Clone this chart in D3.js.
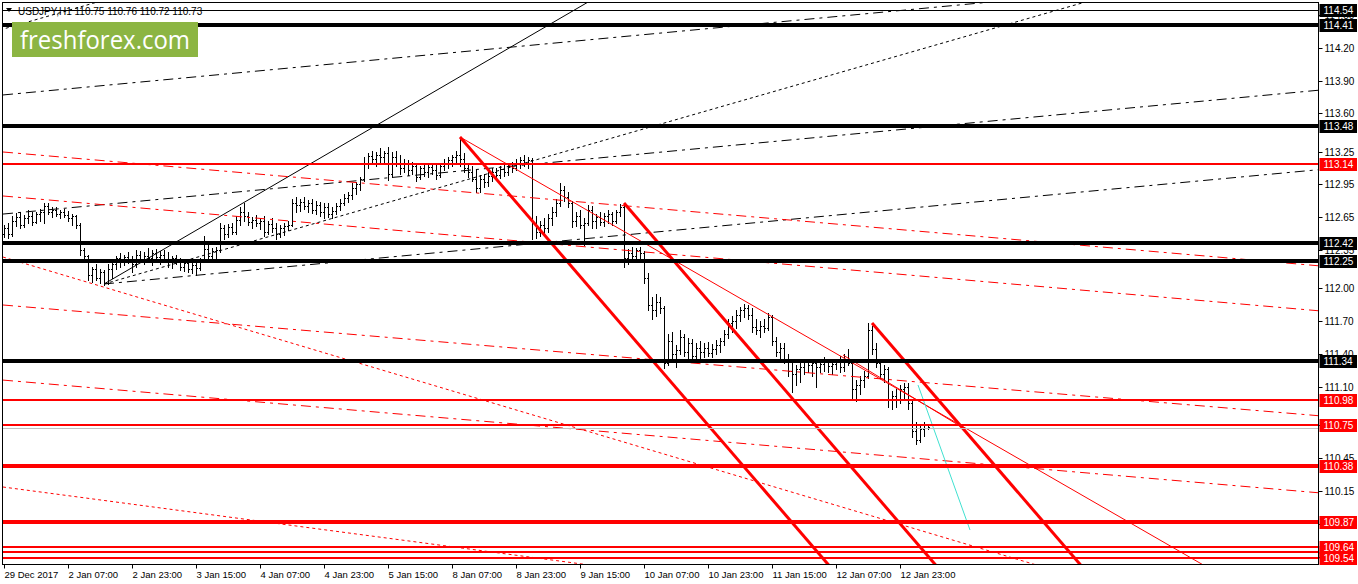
<!DOCTYPE html>
<html><head><meta charset="utf-8">
<script src="https://cdn.jsdelivr.net/npm/d3@7"></script>
<style>body{margin:0;background:#fff;overflow:hidden}svg{display:block}</style>
</head><body>
<svg id="c" width="1358" height="584"></svg>
<script>
// ---------- DATA ----------
const symbol = "USDJPY,H1";
const lastQuote = [110.75, 110.76, 110.72, 110.73];
const opens = [
112.50,112.55,112.50,112.62,112.65,112.58,112.64,112.66,112.61,112.68,
112.70,112.75,112.70,112.72,112.68,112.70,112.67,112.64,112.66,112.58,
112.35,112.30,112.12,112.18,112.10,112.15,112.05,112.18,112.22,112.28,
112.24,112.29,112.26,112.22,112.31,112.27,112.30,112.28,112.32,112.29,
112.31,112.27,112.24,112.28,112.25,112.20,112.23,112.18,112.21,112.19,
112.25,112.36,112.30,112.34,112.35,112.55,112.50,112.56,112.52,112.63,
112.70,112.66,112.61,112.63,112.60,112.62,112.52,112.59,112.55,112.50,
112.55,112.57,112.58,112.78,112.76,112.79,112.75,112.78,112.72,112.76,
112.70,112.74,112.68,112.71,112.75,112.78,112.83,112.85,112.92,112.95,
113.00,113.15,113.21,113.18,113.22,113.20,113.24,113.05,113.20,113.15,
113.10,113.14,113.08,113.12,113.02,113.10,113.06,113.11,113.08,113.04,
113.12,113.15,113.17,113.20,113.22,113.18,113.10,113.06,113.00,112.92,
113.00,112.97,113.03,113.06,113.04,113.09,113.06,113.12,113.10,113.15,
113.17,113.14,113.17,112.60,112.52,112.58,112.55,112.64,112.70,112.78,
112.90,112.84,112.78,112.62,112.66,112.58,112.60,112.72,112.62,112.65,
112.61,112.66,112.68,112.62,112.70,112.74,112.28,112.32,112.30,112.35,
112.32,112.10,111.85,111.80,111.88,111.82,111.32,111.52,111.40,111.44,
111.56,111.42,111.50,111.38,111.46,111.42,111.46,111.41,111.45,111.48,
111.52,111.58,111.68,111.70,111.76,111.80,111.82,111.76,111.65,111.62,
111.66,111.64,111.74,111.52,111.42,111.46,111.36,111.25,111.22,111.26,
111.28,111.33,111.30,111.32,111.28,111.31,111.33,111.29,111.31,111.33,
111.28,111.36,111.32,111.08,111.12,111.16,111.20,111.62,111.45,111.32,
111.22,111.26,110.98,111.02,110.98,111.08,111.10,110.95,110.70,110.62,
110.72,110.75];
const highs = [
112.58,112.60,112.66,112.69,112.70,112.67,112.72,112.70,112.70,112.73,
112.78,112.78,112.74,112.74,112.72,112.73,112.71,112.68,112.67,112.60,
112.37,112.31,112.20,112.22,112.18,112.17,112.22,112.25,112.30,112.32,
112.31,112.33,112.30,112.35,112.34,112.33,112.37,112.35,112.36,112.34,
112.35,112.33,112.30,112.31,112.28,112.26,112.25,112.24,112.25,112.28,
112.48,112.40,112.37,112.38,112.60,112.58,112.59,112.60,112.66,112.74,
112.78,112.70,112.65,112.67,112.64,112.66,112.62,112.64,112.60,112.58,
112.60,112.62,112.82,112.84,112.82,112.84,112.81,112.82,112.80,112.79,
112.78,112.78,112.74,112.78,112.82,112.86,112.88,112.96,112.97,113.02,
113.20,113.24,113.26,113.25,113.28,113.26,113.29,113.25,113.26,113.22,
113.18,113.17,113.16,113.14,113.12,113.14,113.14,113.15,113.13,113.14,
113.18,113.20,113.22,113.26,113.37,113.24,113.15,113.12,113.08,113.04,
113.05,113.06,113.10,113.10,113.12,113.14,113.15,113.16,113.18,113.20,
113.22,113.20,113.19,112.66,112.62,112.64,112.68,112.74,112.82,112.96,
112.94,112.88,112.80,112.70,112.72,112.64,112.76,112.75,112.68,112.70,
112.69,112.72,112.70,112.72,112.77,112.76,112.36,112.38,112.37,112.38,
112.34,112.14,111.92,111.95,111.92,111.84,111.58,111.60,111.48,111.62,
111.58,111.55,111.54,111.50,111.52,111.50,111.51,111.49,111.53,111.55,
111.62,111.72,111.75,111.80,111.83,111.86,111.85,111.82,111.72,111.70,
111.72,111.78,111.76,111.56,111.50,111.50,111.40,111.34,111.30,111.32,
111.36,111.36,111.35,111.36,111.35,111.37,111.36,111.34,111.36,111.38,
111.40,111.45,111.33,111.16,111.20,111.25,111.68,111.66,111.50,111.35,
111.30,111.28,111.06,111.08,111.12,111.14,111.14,110.97,110.78,110.76,
110.78,110.76];
const lows = [
112.47,112.46,112.48,112.57,112.55,112.56,112.60,112.58,112.60,112.62,
112.60,112.68,112.65,112.66,112.64,112.65,112.62,112.58,112.55,112.31,
112.27,112.08,112.06,112.08,112.05,112.03,112.04,112.10,112.18,112.20,
112.21,112.23,112.15,112.20,112.24,112.22,112.25,112.21,112.26,112.22,
112.25,112.20,112.19,112.22,112.17,112.16,112.15,112.14,112.12,112.17,
112.24,112.26,112.27,112.25,112.33,112.45,112.47,112.50,112.50,112.58,
112.62,112.58,112.55,112.57,112.54,112.48,112.50,112.52,112.45,112.47,
112.49,112.53,112.57,112.70,112.71,112.73,112.70,112.69,112.68,112.66,
112.64,112.65,112.64,112.68,112.72,112.76,112.79,112.82,112.86,112.90,
112.98,113.10,113.14,113.12,113.16,113.14,112.99,113.02,113.12,113.05,
113.06,113.04,113.05,112.98,113.00,113.03,113.02,113.05,113.00,113.02,
113.08,113.10,113.12,113.14,113.12,113.06,113.02,112.98,112.88,112.88,
112.93,112.94,112.98,113.00,113.01,113.03,113.04,113.06,113.08,113.10,
113.12,113.10,112.45,112.46,112.48,112.50,112.52,112.58,112.66,112.75,
112.80,112.74,112.56,112.57,112.55,112.40,112.58,112.55,112.55,112.58,
112.57,112.60,112.58,112.60,112.66,112.20,112.22,112.25,112.26,112.28,
112.05,111.80,111.72,111.75,111.78,111.27,111.30,111.35,111.28,111.40,
111.38,111.36,111.34,111.34,111.36,111.37,111.38,111.37,111.40,111.42,
111.48,111.55,111.60,111.64,111.70,111.74,111.72,111.60,111.58,111.56,
111.60,111.62,111.48,111.38,111.35,111.32,111.20,111.05,111.12,111.15,
111.22,111.24,111.20,111.10,111.24,111.25,111.24,111.22,111.26,111.24,
111.25,111.30,111.00,110.97,111.04,111.10,111.18,111.40,111.28,111.18,
111.15,110.92,110.90,110.92,110.95,110.98,110.90,110.64,110.58,110.60,
110.65,110.72];
const closes = [
112.55,112.50,112.62,112.65,112.58,112.64,112.66,112.61,112.68,112.70,
112.75,112.70,112.72,112.68,112.70,112.67,112.64,112.66,112.58,112.35,
112.30,112.12,112.18,112.10,112.15,112.05,112.18,112.22,112.28,112.24,
112.29,112.26,112.22,112.31,112.27,112.30,112.28,112.32,112.29,112.31,
112.27,112.24,112.28,112.25,112.20,112.23,112.18,112.21,112.19,112.25,
112.36,112.30,112.34,112.35,112.55,112.50,112.56,112.52,112.63,112.70,
112.66,112.61,112.63,112.60,112.62,112.52,112.59,112.55,112.50,112.55,
112.57,112.58,112.78,112.76,112.79,112.75,112.78,112.72,112.76,112.70,
112.74,112.68,112.71,112.75,112.78,112.83,112.85,112.92,112.95,113.00,
113.15,113.21,113.18,113.22,113.20,113.24,113.05,113.20,113.15,113.10,
113.14,113.08,113.12,113.02,113.10,113.06,113.11,113.08,113.04,113.12,
113.15,113.17,113.20,113.22,113.18,113.10,113.06,113.00,112.92,113.00,
112.97,113.03,113.06,113.04,113.09,113.06,113.12,113.10,113.15,113.17,
113.14,113.17,112.60,112.52,112.58,112.55,112.64,112.70,112.78,112.90,
112.84,112.78,112.62,112.66,112.58,112.60,112.72,112.62,112.65,112.61,
112.66,112.68,112.62,112.70,112.74,112.28,112.32,112.30,112.35,112.32,
112.10,111.85,111.80,111.88,111.82,111.32,111.52,111.40,111.44,111.56,
111.42,111.50,111.38,111.46,111.42,111.46,111.41,111.45,111.48,111.52,
111.58,111.68,111.70,111.76,111.80,111.82,111.76,111.65,111.62,111.66,
111.64,111.74,111.52,111.42,111.46,111.36,111.25,111.22,111.26,111.28,
111.33,111.30,111.32,111.28,111.31,111.33,111.29,111.31,111.33,111.28,
111.36,111.32,111.08,111.12,111.16,111.20,111.62,111.45,111.32,111.22,
111.26,110.98,111.02,110.98,111.08,111.10,110.95,110.70,110.62,110.72,
110.75,110.73];

const timeLabels = ["29 Dec 2017","2 Jan 07:00","2 Jan 23:00","3 Jan 15:00","4 Jan 07:00","4 Jan 23:00","5 Jan 15:00","8 Jan 07:00","8 Jan 23:00","9 Jan 15:00","10 Jan 07:00","10 Jan 23:00","11 Jan 15:00","12 Jan 07:00","12 Jan 23:00"];
const timeLabelBars = [0,16,32,48,64,80,96,112,128,144,160,176,192,208,224];
const priceTicks = [114.50,114.20,113.90,113.60,113.25,112.95,112.65,112.35,112.00,111.70,111.40,111.10,110.75,110.45,110.15,109.85,109.55];

// horizontal levels (price) and their kind; label drawing order follows this list
const levelPrices = [114.54,114.41,113.48,112.42,112.25,111.34,113.14,110.98,110.75,110.38,109.87,109.59,109.54,109.64];
const levelKinds  = ["bThin","bThick","bThick","bThick","bThick","bThick","rMid","rMid","rMid","rThick","rThick","rMid","rMid","rMid"];
const askPrice = 110.722;

// trend lines: [bar1, price1, bar2, price2]
const trendLines = [
  [25,112.041, 144.75,114.590],   // black solid up
  [25,112.041, 267.75,114.590],   // black dotted up
  [-1,114.362, 24.75,114.632],    // black dotted parallel (top-left)
  [25,112.041, 326.5,113.078],    // black dash-dot lower
  [-0.25,112.680, 326.5,113.804], // black dash-dot middle
  [-0.25,113.768, 326.5,114.892], // black dash-dot upper
  [-0.25,113.247, 326.5,112.214], // red dash-dot 1
  [-0.25,112.845, 326.5,111.803], // red dash-dot 2
  [-0.25,111.849, 326.5,110.844], // red dash-dot 3
  [-0.25,111.163, 326.5,110.140], // red dash-dot 4
  [-0.25,112.287, 256.5,109.491], // red dotted steep
  [-0.25,110.186, 142.75,109.491],// red dotted lower
  [114,113.384, 205.75,109.491],  // red channel A
  [155,112.781, 232.5,109.491],   // red channel B
  [217,111.684, 268.75,109.491],  // red channel C
  [114,113.384, 299,109.491],     // red thin
  [209.75,111.392, 239,110.743],  // red thin 2
  [228.5,111.118, 241.5,109.793]  // cyan
];
const trendKinds = ["bSolid","bDot","bDot","bDashDot","bDashDot","bDashDot","rDashDot","rDashDot","rDashDot","rDashDot","rDot","rDot","rThick","rThick","rThick","rThin","rThin","cyan"];
const trendRay = [true,true,true,true,true,true,true,true,true,true,true,true,true,true,true,true,false,false];

// ---------- STYLES ----------
const lineStyle = {
  bSolid:{c:"#000",w:1,d:null}, bDot:{c:"#000",w:1,d:"3,3"}, bDashDot:{c:"#000",w:1,d:"10,5,3,5"},
  rDashDot:{c:"#ff0000",w:1,d:"10,5,3,5"}, rDot:{c:"#ff0000",w:1,d:"3,3"},
  rThick:{c:"#ff0000",w:3,d:null}, rThin:{c:"#ff0000",w:1,d:null}, cyan:{c:"#40e0d0",w:1,d:null}
};
const levelStyle = {
  bThin:{c:"#000",w:1}, bThick:{c:"#000",w:4}, rMid:{c:"#ff0000",w:2}, rThick:{c:"#ff0000",w:4}
};

// ---------- LAYOUT ----------
const L=2.5, R=1318.5, T=2.5, B=564.5;
const svg=d3.select("#c");
const n=closes.length;
const x=d3.scaleLinear().domain([0,n-1]).range([4,4+4*(n-1)]);
const y=d3.scaleLinear().domain([114.41,109.87]).range([24.7,521.6]);
const font="'Liberation Sans',Arial,sans-serif";

svg.append("defs").append("clipPath").attr("id","pc")
  .append("rect").attr("x",L).attr("y",T).attr("width",R-L).attr("height",B-T);
const plot=svg.append("g").attr("clip-path","url(#pc)");

// bars
const bars=plot.append("g").attr("fill","#000").attr("shape-rendering","crispEdges");
d3.range(n).forEach(i=>{
  const xi=Math.round(x(i));
  const yh=Math.round(y(highs[i])), yl=Math.round(y(lows[i]));
  bars.append("rect").attr("x",xi).attr("y",yh).attr("width",1).attr("height",Math.max(1,yl-yh+1));
  bars.append("rect").attr("x",xi-1).attr("y",Math.round(y(opens[i]))).attr("width",1).attr("height",1);
  bars.append("rect").attr("x",xi+1).attr("y",Math.round(y(closes[i]))).attr("width",1).attr("height",1);
});

// trend lines
trendLines.forEach((t,k)=>{
  const s=lineStyle[trendKinds[k]];
  let x1=x(t[0]),y1=y(t[1]),x2=x(t[2]),y2=y(t[3]);
  if(trendRay[k]){const m=(y2-y1)/(x2-x1); const xe=1500; y2=y1+m*(xe-x1); x2=xe;}
  plot.append("line").attr("x1",x1).attr("y1",y1).attr("x2",x2).attr("y2",y2)
    .attr("stroke",s.c).attr("stroke-width",s.w).attr("stroke-dasharray",s.d);
});

// ask line
plot.append("line").attr("x1",L).attr("x2",R).attr("y1",Math.round(y(askPrice))+0.5).attr("y2",Math.round(y(askPrice))+0.5)
  .attr("stroke","#c0c0c0").attr("stroke-width",1);

// horizontal levels
levelPrices.forEach((p,k)=>{
  const s=levelStyle[levelKinds[k]];
  const yy=Math.round(y(p))+(s.w%2?0.5:0);
  plot.append("line").attr("x1",L).attr("x2",R).attr("y1",yy).attr("y2",yy)
    .attr("stroke",s.c).attr("stroke-width",s.w);
});

// frame
svg.append("rect").attr("x",L).attr("y",T).attr("width",R-L).attr("height",B-T)
  .attr("fill","none").attr("stroke","#000").attr("stroke-width",1);

// price axis ticks
const pa=svg.append("g").attr("font-family",font).attr("font-size","10px");
priceTicks.forEach(p=>{
  const yy=Math.round(y(p))+0.5;
  pa.append("line").attr("x1",R).attr("x2",R+4).attr("y1",yy).attr("y2",yy).attr("stroke","#000");
  pa.append("text").attr("x",R+6).attr("y",yy+3.5).attr("fill","#000").text(p.toFixed(2));
});
// level labels
levelPrices.forEach((p,k)=>{
  const s=levelStyle[levelKinds[k]];
  const yy=Math.round(y(p));
  pa.append("rect").attr("x",R+1).attr("y",yy-6).attr("width",1358-R-2).attr("height",13).attr("fill",s.c);
  pa.append("text").attr("x",R+5).attr("y",yy+4).attr("fill","#fff").text(p.toFixed(2));
});

// time axis
const ta=svg.append("g").attr("font-family",font).attr("font-size","9.5px");
timeLabelBars.forEach((b,k)=>{
  const xx=Math.round(x(b))+0.5;
  ta.append("line").attr("x1",xx).attr("x2",xx).attr("y1",B).attr("y2",B+4).attr("stroke","#000");
  ta.append("text").attr("x",xx).attr("y",578).attr("fill","#000").text(timeLabels[k]);
});

// title
svg.append("path").attr("d","M6,8 L12,8 L9,12 Z").attr("fill","#000");
svg.append("text").attr("x",18).attr("y",15).attr("font-family",font).attr("font-size","10px")
  .attr("fill","#000").text(symbol+"  "+lastQuote.map(v=>v.toFixed(2)).join(" "));

// logo
svg.append("rect").attr("x",12).attr("y",22).attr("width",186).attr("height",35).attr("fill","#8cb543");
svg.append("text").attr("x",20).attr("y",49).attr("font-family","'Open Sans',sans-serif").attr("font-size","26px")
  .attr("fill","#fff").attr("textLength",170).attr("lengthAdjust","spacingAndGlyphs").text("freshforex.com");
</script>
</body></html>
